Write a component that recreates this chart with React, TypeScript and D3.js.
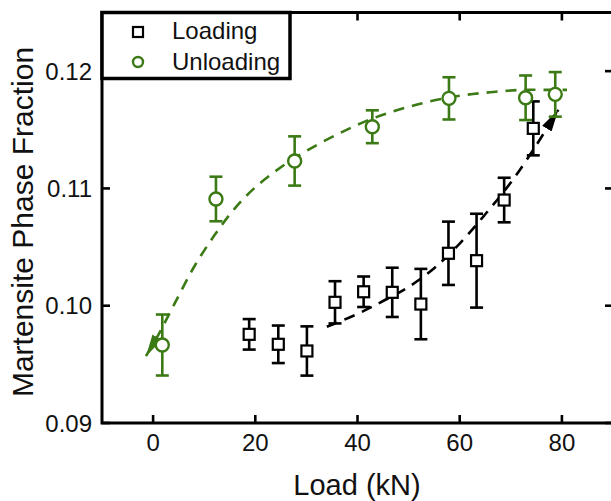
import React from "react";
import * as d3 from "d3";

const loadX = [18.8, 24.5, 30.1, 35.6, 41.2, 46.8, 52.4, 57.8, 63.3, 68.7, 74.4];
const loadY = [0.09756, 0.09671, 0.09614, 0.10029, 0.10119, 0.10114, 0.10014, 0.10447, 0.10384, 0.10901, 0.11512];
const loadErr = [0.0013, 0.0016, 0.0021, 0.0018, 0.0013, 0.0021, 0.003, 0.0027, 0.004, 0.0019, 0.0023];

const unloadX = [1.8, 12.3, 27.7, 42.9, 57.9, 72.9, 78.7];
const unloadY = [0.09665, 0.1091, 0.11234, 0.11526, 0.11768, 0.11773, 0.11802];
const unloadErr = [0.0026, 0.0019, 0.0021, 0.0014, 0.0018, 0.0019, 0.0019];

const unloadFitX = [-1.4, 1, 4, 8, 12, 16, 20, 25, 30, 36, 42, 48, 54, 60, 66, 72, 78, 81];
const unloadFitY = [0.0957, 0.0975, 0.1, 0.1033, 0.106, 0.1083, 0.1101, 0.1118, 0.1132, 0.1146, 0.1158, 0.1167, 0.1174, 0.1179, 0.1182, 0.1184, 0.1184, 0.1184];

const loadFitX = [34, 40, 45, 50, 55, 60, 65, 70, 75, 79.3];
const loadFitY = [0.0982, 0.0993, 0.1004, 0.1016, 0.1032, 0.1053, 0.1078, 0.1105, 0.1137, 0.1167];

const xTicks = [0, 20, 40, 60, 80];
const yTicks = [0.09, 0.1, 0.11, 0.12];

const GREEN = "#3b7a14";
const FONT = "Arial, 'Liberation Sans', sans-serif";

export default function App() {
  const x = d3.scaleLinear().domain([-10, 90]).range([102, 613]);
  const y = d3.scaleLinear().domain([0.09, 0.125]).range([423, 12.5]);
  const line = d3
    .line<[number, number]>()
    .x((d) => x(d[0]))
    .y((d) => y(d[1]))
    .curve(d3.curveCatmullRom);
  const greenPath = line(unloadFitX.map((v, i) => [v, unloadFitY[i]] as [number, number])) || "";
  const blackPath = line(loadFitX.map((v, i) => [v, loadFitY[i]] as [number, number])) || "";
  const left = x(-10);
  const right = x(90);
  const top = y(0.125);
  const bottom = y(0.09);
  const cap = 6.5;

  return (
    <svg
      width={611}
      height={501}
      style={{ position: "absolute", left: 0, top: 0, background: "#fff" }}
      fontFamily={FONT}
    >
      <defs>
        <marker id="arrG" viewBox="0 0 20 10" refX="20" refY="5" markerWidth="22" markerHeight="11" markerUnits="userSpaceOnUse" orient="auto-start-reverse">
          <path d="M0,0 L20,5 L0,10 Z" fill={GREEN} />
        </marker>
        <marker id="arrK" viewBox="0 0 20 10" refX="20" refY="5" markerWidth="22" markerHeight="11" markerUnits="userSpaceOnUse" orient="auto">
          <path d="M0,0 L20,5 L0,10 Z" fill="#000" />
        </marker>
      </defs>

      {/* fit lines */}
      <path d={greenPath} fill="none" stroke={GREEN} strokeWidth={2.6} strokeDasharray="11,8" markerStart="url(#arrG)" />
      <path d={blackPath} fill="none" stroke="#000" strokeWidth={2.6} strokeDasharray="11,8" markerEnd="url(#arrK)" />

      {/* loading series */}
      {loadX.map((v, i) => {
        const cx = x(v);
        const y0 = y(loadY[i] - loadErr[i]);
        const y1 = y(loadY[i] + loadErr[i]);
        return (
          <g key={"l" + i} stroke="#000" strokeWidth={2.6}>
            <line x1={cx} x2={cx} y1={y0} y2={y1} />
            <line x1={cx - cap} x2={cx + cap} y1={y0} y2={y0} />
            <line x1={cx - cap} x2={cx + cap} y1={y1} y2={y1} />
            <rect x={cx - 5.5} y={y(loadY[i]) - 5.5} width={11} height={11} fill="#fff" strokeWidth={2.2} />
          </g>
        );
      })}

      {/* unloading series */}
      {unloadX.map((v, i) => {
        const cx = x(v);
        const y0 = y(unloadY[i] - unloadErr[i]);
        const y1 = y(unloadY[i] + unloadErr[i]);
        return (
          <g key={"u" + i} stroke={GREEN} strokeWidth={2.6}>
            <line x1={cx} x2={cx} y1={y0} y2={y1} />
            <line x1={cx - cap} x2={cx + cap} y1={y0} y2={y0} />
            <line x1={cx - cap} x2={cx + cap} y1={y1} y2={y1} />
            <circle cx={cx} cy={y(unloadY[i])} r={6.5} fill="#fff" strokeWidth={2.4} />
          </g>
        );
      })}

      {/* ticks */}
      {xTicks.map((t) => (
        <g key={"xt" + t} stroke="#000" strokeWidth={2.6}>
          <line x1={x(t)} x2={x(t)} y1={bottom} y2={bottom - 8} />
          <line x1={x(t)} x2={x(t)} y1={top} y2={top + 8} />
        </g>
      ))}
      {yTicks.map((t) => (
        <g key={"yt" + t} stroke="#000" strokeWidth={2.6}>
          <line x1={left} x2={left + 8} y1={y(t)} y2={y(t)} />
          <line x1={right} x2={right - 8} y1={y(t)} y2={y(t)} />
        </g>
      ))}

      {/* frame */}
      <rect x={left} y={top} width={right - left} height={bottom - top} fill="none" stroke="#000" strokeWidth={3} />

      {/* tick labels */}
      {xTicks.map((t) => (
        <text key={"xl" + t} x={x(t)} y={451} textAnchor="middle" fontSize={24} fill="#111">
          {t}
        </text>
      ))}
      {yTicks.map((t) => (
        <text key={"yl" + t} x={92} y={y(t) + 8.5} textAnchor="end" fontSize={24} fill="#111">
          {t.toFixed(2)}
        </text>
      ))}

      {/* axis titles */}
      <text x={357} y={495} textAnchor="middle" fontSize={29} fill="#111">
        Load (kN)
      </text>
      <text
        transform={`translate(33,${222}) rotate(-90)`}
        textAnchor="middle"
        fontSize={30}
        fill="#111"
      >
        Martensite Phase Fraction
      </text>

      {/* legend */}
      <rect x={left} y={top} width={188} height={66} fill="#fff" stroke="#000" strokeWidth={3.5} />
      <rect x={133} y={27} width={10} height={10} fill="#fff" stroke="#000" strokeWidth={2.2} />
      <circle cx={138} cy={62} r={5} fill="#fff" stroke={GREEN} strokeWidth={2.4} />
      <text x={172} y={39} fontSize={24} fill="#111">Loading</text>
      <text x={172} y={70} fontSize={24} fill="#111">Unloading</text>
    </svg>
  );
}
